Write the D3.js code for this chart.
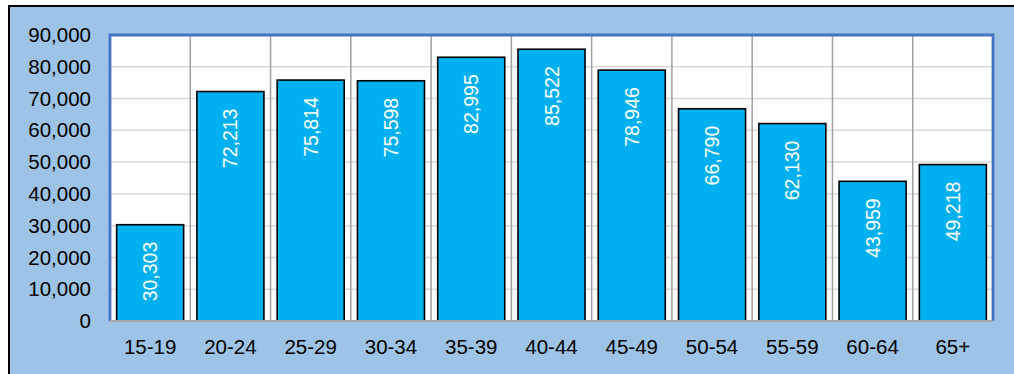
<!DOCTYPE html>
<html><head><meta charset="utf-8">
<script src="https://cdn.jsdelivr.net/npm/d3@7"></script>
<style>html,body{margin:0;padding:0;background:#fff;}svg{display:block;}</style>
</head><body>
<svg id="c" width="1014" height="374"></svg>
<script>
const categories = ["15-19","20-24","25-29","30-34","35-39","40-44","45-49","50-54","55-59","60-64","65+"];
const values = [30303,72213,75814,75598,82995,85522,78946,66790,62130,43959,49218];
const yTicks = [0,10000,20000,30000,40000,50000,60000,70000,80000,90000];

(function(){
const svg = d3.select("#c");
const W = 1014, H = 374;
// outer frame
svg.append("rect").attr("x",9).attr("y",6).attr("width",W+10).attr("height",H+10)
  .attr("fill","#9DC3E6").attr("stroke","#000").attr("stroke-width",2);

const pL = 110, pT = 35, pR = 993, pB = 321;
const x = d3.scaleBand().domain(categories).range([pL,pR]).paddingInner(0.165).paddingOuter(0.0825);
const xCat = d3.scaleBand().domain(categories).range([pL,pR]);
const y = d3.scaleLinear().domain([0,90000]).range([pB,pT]);

svg.append("rect").attr("x",pL).attr("y",pT).attr("width",pR-pL).attr("height",pB-pT).attr("fill","#fff");

// horizontal gridlines
svg.append("g").selectAll("line").data(yTicks.filter(d=>d>0)).join("line")
  .attr("x1",pL).attr("x2",pR).attr("y1",d=>y(d)).attr("y2",d=>y(d))
  .attr("stroke","#d9d9d9").attr("stroke-width",1.5);
// vertical gridlines at category boundaries
svg.append("g").selectAll("line").data(categories.slice(1)).join("line")
  .attr("x1",d=>xCat(d)).attr("x2",d=>xCat(d)).attr("y1",pT).attr("y2",pB)
  .attr("stroke","#a0a0a0").attr("stroke-width",1.5);

// bars
svg.append("g").selectAll("rect").data(values).join("rect")
  .attr("x",(d,i)=>x(categories[i])).attr("width",x.bandwidth())
  .attr("y",d=>y(d)).attr("height",d=>pB-y(d))
  .attr("fill","#00B0F0").attr("stroke","#000").attr("stroke-width",1.6);

// bar labels
const fmt = d3.format(",");
svg.append("g").selectAll("text").data(values).join("text")
  .attr("transform",(d,i)=>`translate(${x(categories[i])+x.bandwidth()/2},${y(d)+17}) rotate(-90)`)
  .attr("text-anchor","end").attr("dominant-baseline","central")
  .attr("fill","#fff").attr("font-family","Liberation Sans, Arial, sans-serif").attr("font-size","19.5px")
  .text(d=>fmt(d));

// plot border
svg.append("path").attr("d",`M${pL},${pB}V${pT}H${pR}V${pB}`)
  .attr("fill","none").attr("stroke","#4472C4").attr("stroke-width",2.8);
// bottom axis line
svg.append("line").attr("x1",pL).attr("x2",pR).attr("y1",pB).attr("y2",pB)
  .attr("stroke","#a6a6a6").attr("stroke-width",2);

// y axis
const yAxis = d3.axisLeft(y).tickValues(yTicks).tickFormat(fmt).tickSize(0).tickPadding(19);
const gy = svg.append("g").attr("transform",`translate(${pL},0)`).call(yAxis);
gy.select(".domain").remove();
gy.selectAll("text").attr("font-family","Liberation Sans, Arial, sans-serif").attr("font-size","20.5px").attr("fill","#000");

// x axis
const xAxis = d3.axisBottom(xCat).tickSize(0).tickPadding(18);
const gx = svg.append("g").attr("transform",`translate(0,${pB})`).call(xAxis);
gx.select(".domain").remove();
gx.selectAll("text").attr("font-family","Liberation Sans, Arial, sans-serif").attr("font-size","20.5px").attr("fill","#000");
})();
</script>
</body></html>
